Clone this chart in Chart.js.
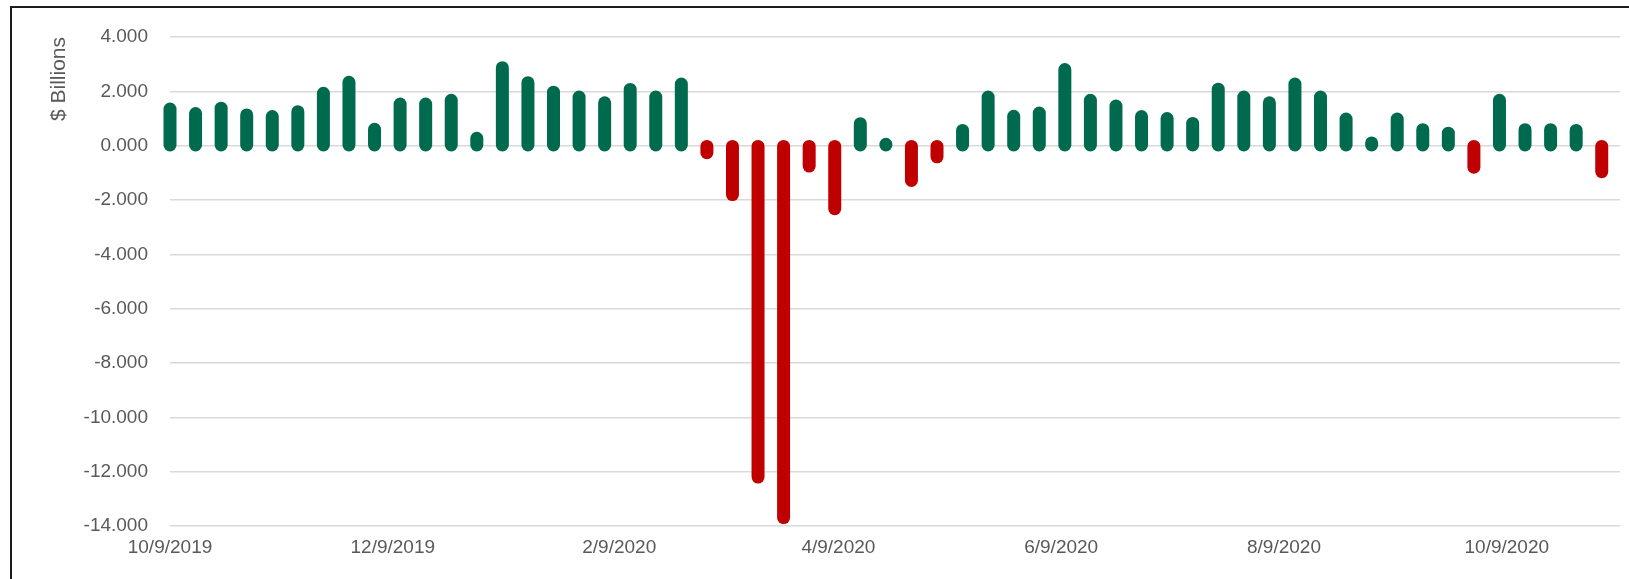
<!DOCTYPE html>
<html>
<head>
<meta charset="utf-8">
<script src="https://cdn.jsdelivr.net/npm/chart.js@4/dist/chart.umd.min.js"></script>
<style>
  html, body { margin: 0; padding: 0; background: #ffffff; }
  #wrap { position: relative; width: 1629px; height: 579px; overflow: hidden; }
  #frame { position: absolute; left: 10px; top: 6px; right: -4px; bottom: -4px;
           border-left: 2px solid #1c1c1c; border-top: 2px solid #1c1c1c; pointer-events: none; }
  canvas { position: absolute; left: 0; top: 0; }
</style>
</head>
<body>
<div id="wrap">
  <canvas id="c" width="1629" height="579"></canvas>
  <div id="frame"></div>
</div>
<script>
// ---- data ----
const weekDates = [
  '10/9/2019','10/16/2019','10/23/2019','10/30/2019','11/6/2019','11/13/2019','11/20/2019','11/27/2019',
  '12/4/2019','12/11/2019','12/18/2019','12/25/2019',
  '1/1/2020','1/8/2020','1/15/2020','1/22/2020','1/29/2020',
  '2/5/2020','2/12/2020','2/19/2020','2/26/2020',
  '3/4/2020','3/11/2020','3/18/2020','3/25/2020',
  '4/1/2020','4/8/2020','4/15/2020','4/22/2020','4/29/2020',
  '5/6/2020','5/13/2020','5/20/2020','5/27/2020',
  '6/3/2020','6/10/2020','6/17/2020','6/24/2020',
  '7/1/2020','7/8/2020','7/15/2020','7/22/2020','7/29/2020',
  '8/5/2020','8/12/2020','8/19/2020','8/26/2020',
  '9/2/2020','9/9/2020','9/16/2020','9/23/2020','9/30/2020',
  '10/7/2020','10/14/2020','10/21/2020','10/28/2020','11/4/2020'
];
const flowValues = [
  1.35, 1.18, 1.38, 1.13, 1.07, 1.25, 1.93, 2.33,
  0.60, 1.53, 1.53, 1.67,
  0.27, 2.87, 2.32, 1.97, 1.79,
  1.58, 2.07, 1.79, 2.27,
  -0.26, -1.80, -12.20, -13.69,
  -0.75, -2.32, 0.81, 0.05, -1.28,
  -0.41, 0.56, 1.79, 1.08,
  1.20, 2.80, 1.67, 1.46,
  1.07, 1.00, 0.82, 2.08, 1.79,
  1.58, 2.27, 1.79, 0.98,
  0.10, 0.98, 0.59, 0.46, -0.79,
  1.67, 0.59, 0.59, 0.56, -0.96
];
const xTickLabels = ['10/9/2019','12/9/2019','2/9/2020','4/9/2020','6/9/2020','8/9/2020','10/9/2020'];
const xAxisStart = '10/9/2019';
const xAxisEnd = '11/9/2020';
const yAxisMin = -14, yAxisMax = 4, yAxisStep = 2;
const yAxisTitle = '$ Billions';

const GREEN = '#006a4e';
const RED = '#c00000';
const TEXT = '#595959';

function dayNum(s) {
  const [m, d, y] = s.split('/').map(Number);
  return Math.round(Date.UTC(y, m - 1, d) / 86400000);
}
const tickMap = new Map(xTickLabels.map(s => [dayNum(s), s]));
const points = weekDates.map((s, i) => ({ x: dayNum(s), y: flowValues[i] }));

// draw each bar element as a thick round-capped stroke between its base and its value
const roundCapBars = {
  id: 'roundCapBars',
  beforeDatasetDraw(chart, args) {
    const ctx = chart.ctx;
    const ds = chart.data.datasets[args.index];
    ctx.save();
    ctx.lineCap = 'round';
    args.meta.data.forEach((el, i) => {
      const v = ds.data[i].y;
      ctx.strokeStyle = v < 0 ? RED : GREEN;
      ctx.lineWidth = el.width;
      ctx.beginPath();
      ctx.moveTo(el.x, el.base);
      ctx.lineTo(el.x, el.y);
      ctx.stroke();
    });
    ctx.restore();
    return false;
  }
};

new Chart(document.getElementById('c'), {
  type: 'bar',
  data: {
    datasets: [{
      data: points,
      barThickness: 13,
      backgroundColor: ctx => (ctx.raw && ctx.raw.y < 0 ? RED : GREEN)
    }]
  },
  plugins: [roundCapBars],
  options: {
    responsive: false,
    animation: false,
    events: [],
    layout: { padding: { left: 0, top: 37, right: 9, bottom: 0 } },
    plugins: { legend: { display: false }, tooltip: { enabled: false } },
    scales: {
      x: {
        type: 'linear',
        offset: false,
        min: dayNum(xAxisStart),
        max: dayNum(xAxisEnd),
        grid: { display: false, drawTicks: false, offset: false },
        border: { display: false },
        afterBuildTicks: scale => { scale.ticks = [...tickMap.keys()].map(v => ({ value: v })); },
        afterFit: scale => { scale.height = 53; },
        ticks: {
          autoSkip: false,
          maxRotation: 0,
          padding: 10,
          color: TEXT,
          font: { family: '"Liberation Sans", Arial, sans-serif', size: 19 },
          callback: v => tickMap.get(v) || ''
        }
      },
      y: {
        min: yAxisMin,
        max: yAxisMax,
        grid: { color: '#d9d9d9', lineWidth: 1.5, drawTicks: false },
        border: { display: false },
        afterFit: scale => { scale.width = 170; },
        ticks: {
          stepSize: yAxisStep,
          padding: 22,
          color: TEXT,
          font: { family: '"Liberation Sans", Arial, sans-serif', size: 19 },
          callback: v => Number(v).toFixed(3)
        },
        title: {
          display: true,
          text: yAxisTitle,
          align: 'end',
          color: TEXT,
          padding: { top: 47, bottom: 0 },
          font: { family: '"Liberation Sans", Arial, sans-serif', size: 21 }
        }
      }
    }
  }
});
</script>
</body>
</html>
